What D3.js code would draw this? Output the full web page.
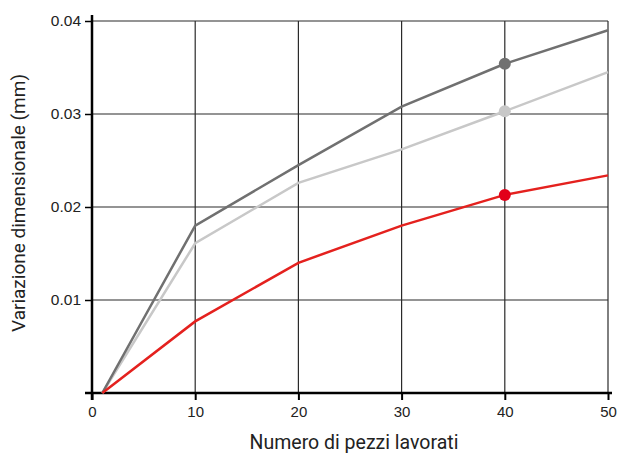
<!DOCTYPE html>
<html>
<head>
<meta charset="utf-8">
<script src="https://cdn.jsdelivr.net/npm/d3@7"></script>
<style>
  body { margin: 0; background: #fff; }
  svg { font-family: Roboto, "DejaVu Sans", sans-serif; }
</style>
</head>
<body>
<svg></svg>
<script>
const width = 617,
  height = 454

const margin = { top: 21, right: 9, bottom: 61, left: 92 }

// data
const pezzi = [1, 10, 20, 30, 40, 50]
const serieScura = [0, 0.018, 0.0245, 0.0308, 0.0354, 0.039]
const serieChiara = [0, 0.0161, 0.0226, 0.0262, 0.0303, 0.0345]
const serieRossa = [0, 0.0077, 0.014, 0.018, 0.0213, 0.0234]
const xTicks = [0, 10, 20, 30, 40, 50]
const yTicks = [0.01, 0.02, 0.03, 0.04]
const markerAt = 40

const series = [
  { values: serieChiara, color: "#c8c8c8" },
  { values: serieScura, color: "#707070" },
  { values: serieRossa, color: "#e4211e", dot: "#e2001a" },
]

const svg = d3.select("svg").attr("width", width).attr("height", height)

const x = d3
  .scaleLinear()
  .domain([0, 50])
  .range([margin.left, width - margin.right])
const y = d3
  .scaleLinear()
  .domain([0, 0.04])
  .range([height - margin.bottom, margin.top])

// grid
const grid = svg.append("g").attr("stroke", "#2a2a2a").attr("stroke-width", 1.2)
grid
  .selectAll("line.v")
  .data(xTicks.slice(1))
  .join("line")
  .attr("class", "v")
  .attr("x1", d => x(d))
  .attr("x2", d => x(d))
  .attr("y1", y(0))
  .attr("y2", y(0.04))
grid
  .selectAll("line.h")
  .data(yTicks)
  .join("line")
  .attr("class", "h")
  .attr("x1", x(0))
  .attr("x2", x(50))
  .attr("y1", d => y(d))
  .attr("y2", d => y(d))

// axes
const xAxis = svg
  .append("g")
  .attr("transform", `translate(0,${y(0)})`)
  .call(
    d3.axisBottom(x).tickValues(xTicks).tickSize(7).tickPadding(6).tickSizeOuter(0)
  )
xAxis.select(".domain").remove()
xAxis
  .append("line")
  .attr("x1", x(0) - 7)
  .attr("x2", x(50) + 4)
  .attr("stroke", "#000")
  .attr("stroke-width", 2.5)
xAxis.selectAll(".tick line").attr("stroke", "#000").attr("stroke-width", 2)
xAxis.selectAll("text").attr("font-size", 15).attr("fill", "#222")

const yAxis = svg
  .append("g")
  .attr("transform", `translate(${x(0)},0)`)
  .call(d3.axisLeft(y).tickValues(yTicks).tickSize(7).tickPadding(4).tickFormat(d3.format(".2f")))
yAxis.select(".domain").remove()
yAxis
  .append("line")
  .attr("y1", y(0) + 7)
  .attr("y2", y(0.04) - 6)
  .attr("stroke", "#000")
  .attr("stroke-width", 2.5)
yAxis.selectAll(".tick line").attr("stroke", "#000").attr("stroke-width", 1.5)
yAxis.selectAll("text").attr("font-size", 15.5).attr("fill", "#222")

// lines
const line = d3
  .line()
  .x((d, i) => x(pezzi[i]))
  .y(d => y(d))

svg
  .append("g")
  .selectAll("path")
  .data(series)
  .join("path")
  .attr("d", d => line(d.values))
  .attr("fill", "none")
  .attr("stroke", d => d.color)
  .attr("stroke-width", 2.5)

svg
  .append("g")
  .selectAll("circle")
  .data(series)
  .join("circle")
  .attr("cx", x(markerAt))
  .attr("cy", d => y(d.values[pezzi.indexOf(markerAt)]))
  .attr("r", 6)
  .attr("fill", d => d.dot || d.color)

// titles
svg
  .append("text")
  .attr("x", (x(0) + x(50)) / 2 + 4)
  .attr("y", 449)
  .attr("text-anchor", "middle")
  .attr("font-size", 19.5)
  .attr("fill", "#222")
  .text("Numero di pezzi lavorati")

svg
  .append("text")
  .attr("transform", `translate(25,203) rotate(-90)`)
  .attr("text-anchor", "middle")
  .attr("font-size", 19)
  .attr("fill", "#222")
  .text("Variazione dimensionale (mm)")
</script>
</body>
</html>
